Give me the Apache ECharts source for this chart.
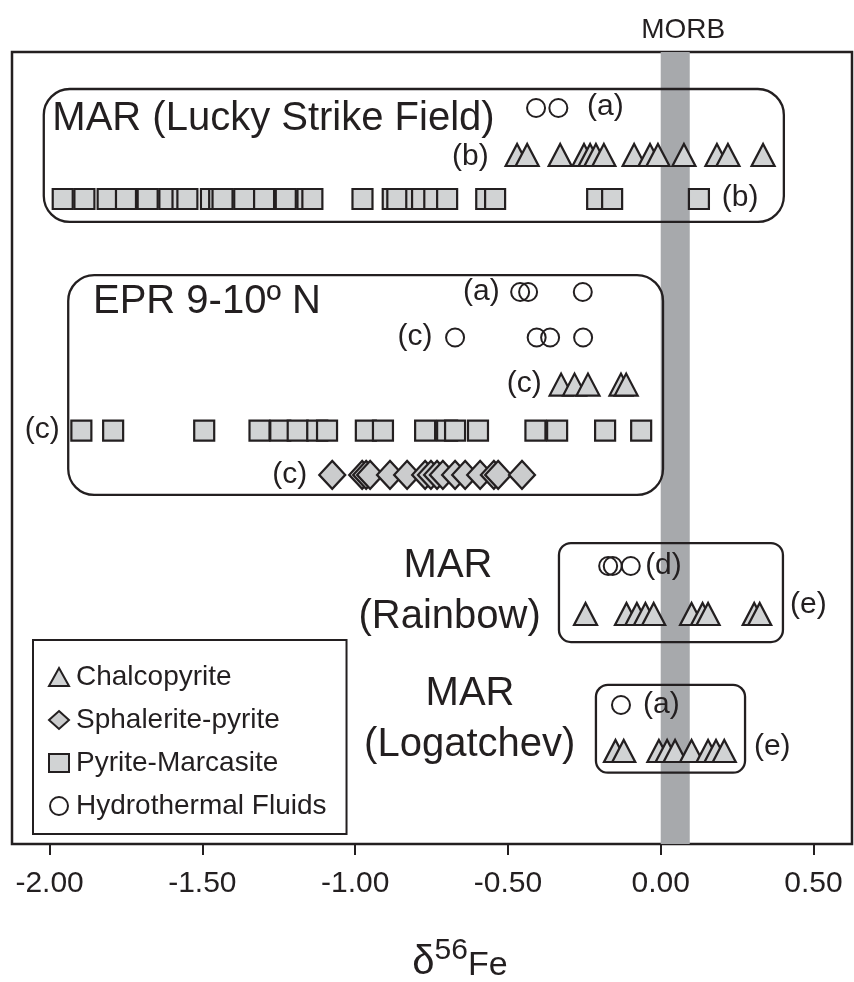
<!DOCTYPE html>
<html>
<head>
<meta charset="utf-8">
<title>δ56Fe of vent sulfides and fluids</title>
<script src="https://cdn.jsdelivr.net/npm/echarts@6/dist/echarts.min.js"></script>
<style>
  html, body { margin: 0; padding: 0; background: #ffffff; }
  #chart { width: 854px; height: 982px; }
</style>
</head>
<body>
<div id="chart"></div>
<script>
// δ56Fe values (‰) per vent field and mineral group
const luckyFluids = [-0.408, -0.335];
const luckyChalcopyrite = [-0.470, -0.437, -0.329, -0.251, -0.231, -0.212, -0.186, -0.087, -0.035, -0.009, 0.076, 0.184, 0.220, 0.335];
const luckyPyrite = [-1.957, -1.886, -1.810, -1.750, -1.679, -1.608, -1.565, -1.549, -1.472, -1.445, -1.434, -1.363, -1.298, -1.227, -1.156, -1.140,
                     -0.976, -0.877, -0.862, -0.800, -0.781, -0.741, -0.699, -0.571, -0.542, -0.208, -0.159, 0.125];

const eprFluidsA = [-0.460, -0.434, -0.255];
const eprFluidsC = [-0.673, -0.406, -0.362, -0.254];
const eprChalcopyrite = [-0.326, -0.282, -0.238, -0.130, -0.113];
const eprPyrite = [-1.896, -1.792, -1.494, -1.313, -1.245, -1.188, -1.124, -1.092, -0.965, -0.909, -0.771, -0.699, -0.673, -0.598, -0.410, -0.339, -0.182, -0.064];
const eprSphalerite = [-1.075, -0.977, -0.964, -0.951, -0.886, -0.830, -0.771, -0.752, -0.732, -0.713, -0.673, -0.640, -0.591, -0.546, -0.532, -0.454];

const rainbowFluids = [-0.172, -0.157, -0.098];
const rainbowChalcopyrite = [-0.246, -0.112, -0.078, -0.050, -0.023, 0.101, 0.137, 0.155, 0.306, 0.324];

const logatchevFluids = [-0.130];
const logatchevChalcopyrite = [-0.148, -0.121, -0.006, 0.021, 0.047, 0.101, 0.155, 0.181, 0.208];

const morbRange = [0.0, 0.095];
const tickValues = [-2.0, -1.5, -1.0, -0.5, 0.0, 0.5];
const groupNames = ['Chalcopyrite', 'Sphalerite-pyrite', 'Pyrite-Marcasite', 'Hydrothermal Fluids'];

// Vertical lane (0 = top of plot, 100 = bottom) of each row of symbols
const lane = {
  luckyFluids: 7.07, luckyChalco: 13.0, luckyPyrite: 18.56,
  eprFluidsA: 30.3, eprFluidsC: 36.05, eprChalco: 42.0, eprPyrite: 47.8, eprSphalerite: 53.4,
  rainbowFluids: 64.9, rainbowChalco: 70.96,
  logFluids: 82.45, logChalco: 88.26
};

const row = (values, y) => values.map(v => [v, y]);

const chalcoData = [].concat(
  row(luckyChalcopyrite, lane.luckyChalco), row(eprChalcopyrite, lane.eprChalco),
  row(rainbowChalcopyrite, lane.rainbowChalco), row(logatchevChalcopyrite, lane.logChalco));
const sphaleriteData = row(eprSphalerite, lane.eprSphalerite);
const pyriteData = [].concat(row(luckyPyrite, lane.luckyPyrite), row(eprPyrite, lane.eprPyrite));
const fluidData = [].concat(
  row(luckyFluids, lane.luckyFluids), row(eprFluidsA, lane.eprFluidsA), row(eprFluidsC, lane.eprFluidsC),
  row(rainbowFluids, lane.rainbowFluids), row(logatchevFluids, lane.logFluids));

// Rounded frames around each vent field: [xFrom, xTo, laneTop, laneBottom], corner radius
const fieldFrames = [
  { box: [-2.019, 0.403, 4.67, 21.46], r: 26 },
  { box: [-1.939, 0.0075, 28.16, 55.93], r: 26 },
  { box: [-0.333, 0.400, 62.0, 74.5], r: 12 },
  { box: [-0.212, 0.276, 79.9, 91.0], r: 12 }
];

// Field names and source tags: [x, lane, text, align, fontSize]
const notes = [
  [-1.991, 8.46, 'MAR (Lucky Strike Field)', 'left', 40],
  [-0.241, 6.94, '(a)', 'left', 30],
  [-0.683, 13.26, '(b)', 'left', 30],
  [0.200, 18.43, '(b)', 'left', 30],
  [-1.858, 31.57, 'EPR 9-10º N', 'left', 40],
  [-0.647, 30.3, '(a)', 'left', 30],
  [-0.861, 35.98, '(c)', 'left', 30],
  [-0.504, 41.92, '(c)', 'left', 30],
  [-2.081, 47.73, '(c)', 'left', 30],
  [-1.271, 53.41, '(c)', 'left', 30],
  [-0.696, 64.9, 'MAR', 'center', 40],
  [-0.691, 71.34, '(Rainbow)', 'center', 40],
  [-0.051, 64.9, '(d)', 'left', 30],
  [0.423, 69.82, '(e)', 'left', 30],
  [-0.624, 81.06, 'MAR', 'center', 40],
  [-0.625, 87.5, '(Logatchev)', 'center', 40],
  [-0.058, 82.45, '(a)', 'left', 30],
  [0.305, 87.75, '(e)', 'left', 30]
];

const INK = '#231f20';
const FILL = '#d1d3d4';
const FONT = '"Liberation Sans", Arial, sans-serif';

const chart = echarts.init(document.getElementById('chart'), null, { renderer: 'canvas' });

const markerStyle = (fill) => ({ color: fill, borderColor: INK, borderWidth: 2.2, opacity: 1 });

chart.setOption({
  animation: false,
  backgroundColor: '#ffffff',
  grid: {
    left: 12, right: 2, top: 52, bottom: 138,
    containLabel: false, outerBoundsMode: 'none',
    show: true, borderColor: INK, borderWidth: 2.5, backgroundColor: 'transparent'
  },
  xAxis: {
    type: 'value', min: -2.123, max: 0.626, position: 'bottom',
    axisLine: { show: false, onZero: false },
    splitLine: { show: false },
    axisTick: { show: true, inside: false, customValues: tickValues, length: 11, lineStyle: { color: INK, width: 2 } },
    axisLabel: { customValues: tickValues, formatter: v => v.toFixed(2), fontSize: 30, fontFamily: FONT, color: INK, margin: 25 },
    name: '{d|δ}{s|56}{f|Fe}',
    nameLocation: 'middle',
    nameGap: 92,
    nameTextStyle: {
      padding: [0, 0, 0, 56],
      rich: {
        d: { fontSize: 40, fontFamily: FONT, color: INK, verticalAlign: 'bottom' },
        s: { fontSize: 30, fontFamily: FONT, color: INK, verticalAlign: 'bottom', padding: [0, 0, 17, 0] },
        f: { fontSize: 34, fontFamily: FONT, color: INK, verticalAlign: 'bottom' }
      }
    }
  },
  yAxis: { type: 'value', min: 0, max: 100, inverse: true, show: false },
  legend: {
    orient: 'vertical', left: 33, top: 640,
    data: groupNames,
    selectedMode: false,
    borderColor: INK, borderWidth: 2, borderRadius: 0,
    padding: [22, 20, 13, 15],
    itemWidth: 20, itemHeight: 18, itemGap: 13,
    textStyle: { fontSize: 28, fontFamily: FONT, color: INK, lineHeight: 30, padding: [0, 0, 0, 2] }
  },
  series: [
    {
      name: 'MORB', type: 'custom', z: 1,
      data: [],
      renderItem: () => null,
      markArea: {
        silent: true,
        itemStyle: { color: '#a7a9ac', opacity: 1 },
        label: { show: true, position: 'top', distance: 8, offset: [8, 0], formatter: 'MORB', fontSize: 28, fontFamily: FONT, color: INK },
        data: [[{ xAxis: morbRange[0] }, { xAxis: morbRange[1] }]]
      }
    },
    {
      name: 'frames', type: 'custom', z: 2, silent: true,
      encode: { x: [0, 1], y: [2, 3] },
      data: fieldFrames.map(f => f.box),
      renderItem: (params, api) => {
        const a = api.coord([api.value(0), api.value(2)]);
        const b = api.coord([api.value(1), api.value(3)]);
        return {
          type: 'rect',
          shape: { x: a[0], y: a[1], width: b[0] - a[0], height: b[1] - a[1], r: fieldFrames[params.dataIndex].r },
          style: { fill: 'none', stroke: INK, lineWidth: 2.3 }
        };
      }
    },
    {
      name: 'Pyrite-Marcasite', type: 'scatter', z: 3, symbol: 'rect', symbolSize: 20,
      itemStyle: markerStyle(FILL), emphasis: { disabled: true }, data: pyriteData
    },
    {
      name: 'Sphalerite-pyrite', type: 'scatter', z: 3, symbol: 'diamond', symbolSize: [26, 28],
      itemStyle: markerStyle('#cbcccd'), emphasis: { disabled: true }, data: sphaleriteData
    },
    {
      name: 'Chalcopyrite', type: 'scatter', z: 3, symbol: 'triangle', symbolSize: [23, 22],
      itemStyle: markerStyle(FILL), emphasis: { disabled: true }, data: chalcoData
    },
    {
      name: 'Hydrothermal Fluids', type: 'scatter', z: 3, symbol: 'circle', symbolSize: 18,
      itemStyle: { color: 'rgba(255,255,255,0)', borderColor: INK, borderWidth: 2, opacity: 1 },
      emphasis: { disabled: true }, data: fluidData
    },
    {
      name: 'notes', type: 'custom', z: 4, silent: true,
      data: notes.map(n => [n[0], n[1]]),
      renderItem: (params, api) => {
        const n = notes[params.dataIndex];
        const p = api.coord([api.value(0), api.value(1)]);
        return {
          type: 'text', x: p[0], y: p[1],
          style: { text: n[2], fontSize: n[4], fontFamily: FONT, fill: INK, align: n[3], verticalAlign: 'middle' }
        };
      }
    }
  ]
});
</script>
</body>
</html>
